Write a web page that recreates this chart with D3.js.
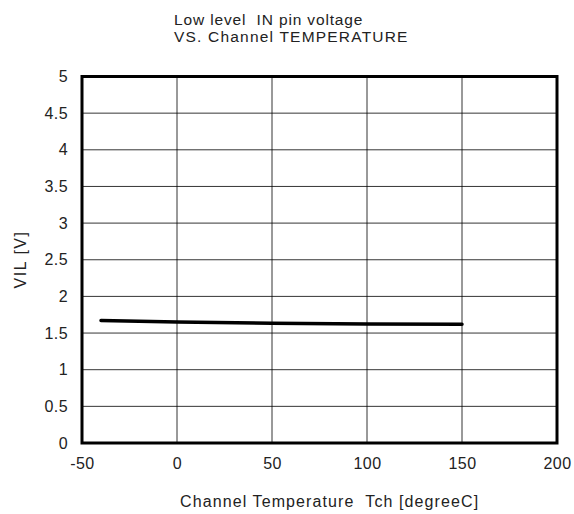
<!DOCTYPE html>
<html><head><meta charset="utf-8">
<script src="https://cdn.jsdelivr.net/npm/d3@7"></script>
<style>body{margin:0;background:#fff;}svg{display:block;font-family:"Liberation Sans",Arial,sans-serif;}</style>
</head><body>
<svg id="c" width="574" height="514"></svg>
<script>
const temps = [-40, 0, 50, 100, 150];
const vil = [1.67, 1.65, 1.635, 1.625, 1.62];
const xTicks = [-50, 0, 50, 100, 150, 200];
const yTicks = [0, 0.5, 1, 1.5, 2, 2.5, 3, 3.5, 4, 4.5, 5];
const titleLines = ["Low level  IN pin voltage", "VS. Channel TEMPERATURE"];
const xTitle = "Channel Temperature  Tch [degreeC]";
const yTitle = "VIL [V]";

const svg = d3.select("#c");
const L = 82, R = 557, T = 76.5, B = 443;
const x = d3.scaleLinear().domain([-50, 200]).range([L, R]);
const y = d3.scaleLinear().domain([0, 5]).range([B, T]);
const FONT = "Liberation Sans, Arial, sans-serif";

// grid
svg.append("g").selectAll("line").data(xTicks).join("line")
  .attr("x1", d => x(d)).attr("x2", d => x(d)).attr("y1", T).attr("y2", B)
  .attr("stroke", "#000").attr("stroke-width", 0.8);
svg.append("g").selectAll("line").data(yTicks).join("line")
  .attr("y1", d => y(d)).attr("y2", d => y(d)).attr("x1", L).attr("x2", R)
  .attr("stroke", "#000").attr("stroke-width", 0.8);

// axes labels
const xa = svg.append("g").attr("transform", `translate(0,${B})`)
  .call(d3.axisBottom(x).tickValues(xTicks).tickSize(0).tickPadding(15).tickFormat(d => String(d)));
xa.select(".domain").remove();
xa.selectAll("text").attr("font-size", 16).attr("fill", "#222").attr("font-family", FONT).attr("letter-spacing", 0.4);
const ya = svg.append("g").attr("transform", `translate(${L},0)`)
  .call(d3.axisLeft(y).tickValues(yTicks).tickSize(0).tickPadding(14).tickFormat(d => String(d)));
ya.select(".domain").remove();
ya.selectAll("text").attr("font-size", 16).attr("fill", "#222").attr("font-family", FONT).attr("letter-spacing", 0.4);

// frame
svg.append("rect").attr("x", L).attr("y", T).attr("width", R - L).attr("height", B - T)
  .attr("fill", "none").attr("stroke", "#000").attr("stroke-width", 3);

// data line
svg.append("path").datum(temps.map((t, i) => [t, vil[i]]))
  .attr("d", d3.line().x(d => x(d[0])).y(d => y(d[1])))
  .attr("fill", "none").attr("stroke", "#000").attr("stroke-width", 3.5).attr("stroke-linecap", "round");

// titles
svg.append("g").selectAll("text").data(titleLines).join("text")
  .attr("x", 174).attr("y", (d, i) => 25 + i * 17)
  .attr("font-size", 15.5).attr("letter-spacing", (d, i) => i === 0 ? 0.85 : 1.2).attr("fill", "#222")
  .style("white-space", "pre").text(d => d);
svg.append("text").attr("x", 180).attr("y", 507)
  .attr("font-size", 16).attr("letter-spacing", 1.1).attr("fill", "#222")
  .style("white-space", "pre").text(xTitle);
svg.append("text").attr("transform", `translate(26,${259.5}) rotate(-90)`)
  .attr("text-anchor", "middle").attr("font-size", 16).attr("letter-spacing", 1.5).attr("fill", "#222").text(yTitle);
</script>
</body></html>
